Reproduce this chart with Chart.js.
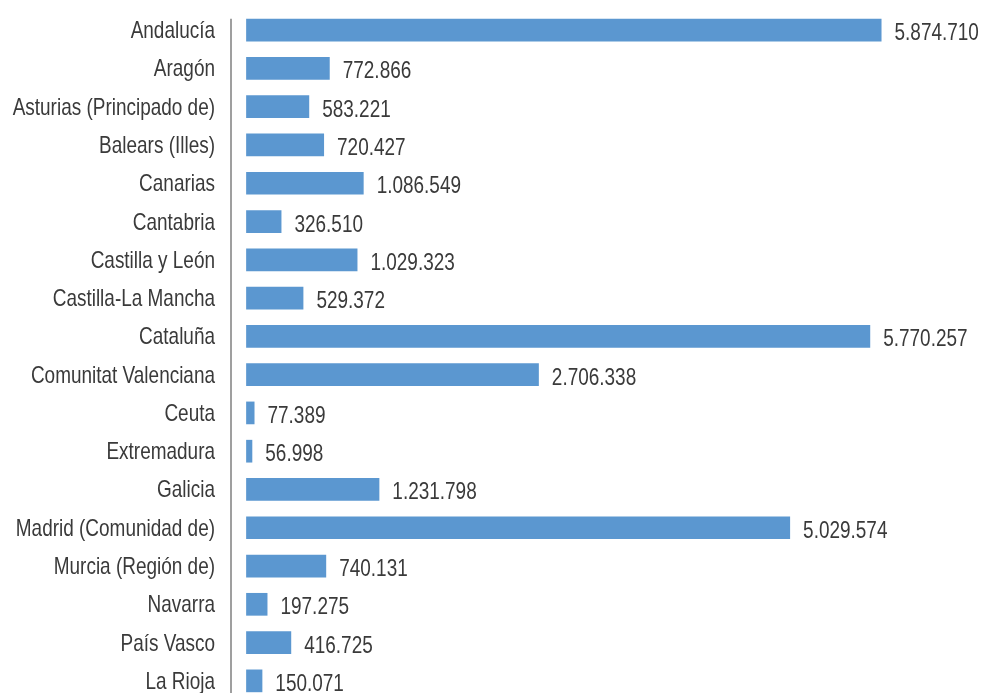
<!DOCTYPE html>
<html lang="es">
<head>
<meta charset="utf-8">
<title>Población por comunidad autónoma</title>
<script src="https://cdn.jsdelivr.net/npm/chart.js@4.4.1/dist/chart.umd.min.js"></script>
<style>
  html, body { margin: 0; padding: 0; background: #fff; overflow: hidden; }
  #wrap { position: relative; width: 987px; height: 712px; }
</style>
</head>
<body>
<div id="wrap"><canvas id="chart" width="987" height="712"></canvas></div>
<script>
/* ─── Data ───────────────────────────────────────────────────────────────── */
const regions = [
  'Andalucía', 'Aragón', 'Asturias (Principado de)', 'Balears (Illes)', 'Canarias',
  'Cantabria', 'Castilla y León', 'Castilla-La Mancha', 'Cataluña', 'Comunitat Valenciana',
  'Ceuta', 'Extremadura', 'Galicia', 'Madrid (Comunidad de)', 'Murcia (Región de)',
  'Navarra', 'País Vasco', 'La Rioja'
];
const values = [
  5874710, 772866, 583221, 720427, 1086549,
  326510, 1029323, 529372, 5770257, 2706338,
  77389, 56998, 1231798, 5029574, 740131,
  197275, 416725, 150071
];

/* ─── Style ──────────────────────────────────────────────────────────────── */
const BAR_COLOUR  = '#5b97d0';
const TEXT_COLOUR = '#3a3a3a';
const FONT        = "24px 'Liberation Sans', Arial, sans-serif";
const SQUEEZE     = 0.79;   // the original uses a condensed face; no such font here

// 5874710 -> "5.874.710"
function fmtES(v) {
  return String(v).replace(/\B(?=(\d{3})+(?!\d))/g, '.');
}

// draw text narrowed horizontally, anchored at (x, y)
function narrowText(ctx, text, x, y, align) {
  ctx.save();
  ctx.translate(x, y);
  ctx.scale(SQUEEZE, 1);
  ctx.textAlign = align;
  ctx.fillText(text, 0, 0);
  ctx.restore();
}

/* ─── Plugins ────────────────────────────────────────────────────────────── */
const axisLine = {
  id: 'axisLine',
  beforeDatasetsDraw(chart) {
    const { ctx, chartArea } = chart;
    const first = chart.getDatasetMeta(0).data[0];
    const top = first.y - first.height / 2;
    ctx.save();
    ctx.strokeStyle = '#7f7f7f';
    ctx.lineWidth = 1.5;
    ctx.beginPath();
    ctx.moveTo(chartArea.left, top);
    ctx.lineTo(chartArea.left, chart.height);
    ctx.stroke();
    ctx.restore();
  }
};

const textLabels = {
  id: 'textLabels',
  afterDatasetsDraw(chart) {
    const { ctx, chartArea } = chart;
    ctx.save();
    ctx.font = FONT;
    ctx.fillStyle = TEXT_COLOUR;
    ctx.textBaseline = 'alphabetic';
    chart.getDatasetMeta(0).data.forEach((bar, i) => {
      narrowText(ctx, regions[i], chartArea.left - 16, bar.y + 8, 'right');
      narrowText(ctx, fmtES(values[i]), bar.x + 13, bar.y + 10, 'left');
    });
    ctx.restore();
  }
};

/* ─── Chart ──────────────────────────────────────────────────────────────── */
new Chart(document.getElementById('chart'), {
  type: 'bar',
  data: {
    labels: regions,
    datasets: [{
      data: values,
      backgroundColor: BAR_COLOUR,
      borderWidth: 0,
      categoryPercentage: 1,
      barPercentage: 0.593
    }]
  },
  options: {
    indexAxis: 'y',
    responsive: false,
    animation: false,
    layout: { padding: { top: 11, bottom: 12, left: 0, right: 0 } },
    plugins: {
      legend: { display: false },
      tooltip: { enabled: false }
    },
    scales: {
      x: {
        display: false,
        min: -140000,
        max: 6850000
      },
      y: {
        afterFit: scale => {
          scale.width = 231;
          scale.paddingTop = 0;
          scale.paddingBottom = 0;
        },
        grid: { display: false, drawTicks: false },
        border: { display: false },
        ticks: { display: false }
      }
    }
  },
  plugins: [axisLine, textLabels]
});
</script>
</body>
</html>
